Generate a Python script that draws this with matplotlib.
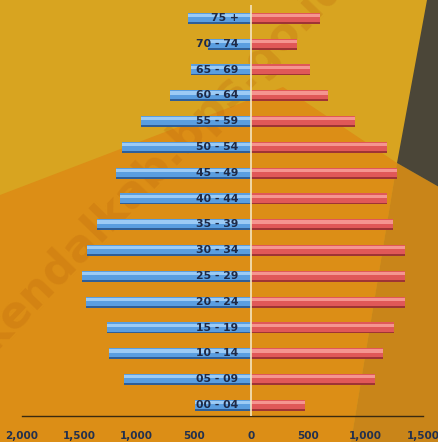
import matplotlib
matplotlib.use("Agg")
import matplotlib.pyplot as plt
from matplotlib.patches import Polygon
import numpy as np

# age groups from bottom to top
age_groups = ["00 - 04", "05 - 09", "10 - 14", "15 - 19", "20 - 24", "25 - 29",
              "30 - 34", "35 - 39", "40 - 44", "45 - 49", "50 - 54", "55 - 59",
              "60 - 64", "65 - 69", "70 - 74", "75 +"]
male = [489, 1108, 1239, 1257, 1440, 1475, 1431, 1344, 1143, 1178, 1126, 960,
        707, 524, 375, 550]
female = [471, 1082, 1152, 1248, 1344, 1344, 1344, 1239, 1187, 1274, 1187, 908,
          672, 515, 401, 602]
tick_values = [-2000, -1500, -1000, -500, 0, 500, 1000, 1500]
tick_labels = ["2,000", "1,500", "1,000", "500", "0", "500", "1,000", "1,500"]

W, H = 439, 442
fig = plt.figure(figsize=(W / 100, H / 100), dpi=100)
fig.patch.set_facecolor("#D8A420")

# background decoration (pixel coordinates, y down)
bg = fig.add_axes([0, 0, 1, 1])
bg.set_xlim(0, W)
bg.set_ylim(H, 0)
bg.axis("off")
bg.add_patch(Polygon([(0, 195), (283, 87), (397, 163), (351, 442), (0, 442)],
                     closed=True, color="#DC8E16", lw=0))
bg.add_patch(Polygon([(397, 163), (439, 187), (439, 442), (351, 442)],
                     closed=True, color="#C98519", lw=0))
bg.add_patch(Polygon([(427, 0), (439, 0), (439, 187), (397, 163)],
                     closed=True, color="#4B4638", lw=0))
bg.text(-6, 352, "kendalkab.bps.go.id", rotation=46, rotation_mode="anchor",
        ha="left", va="baseline", fontsize=32, fontweight="bold",
        color="#B8620A", alpha=0.25)

ax = fig.add_axes([22 / W, 26 / H, 401 / W, 411 / H])
ax.set_facecolor("none")
y = np.arange(len(age_groups))
m = -np.array(male)
f = np.array(female)

# bars with a simple 3D look: dark base, main body, light highlight
ax.barh(y - 0.02, m, height=0.42, color="#2F5E96", zorder=2)
ax.barh(y + 0.02, m, height=0.35, color="#5A9EE0", zorder=3)
ax.barh(y + 0.09, m, height=0.12, color="#9CCBF5", zorder=4)

ax.barh(y - 0.02, f, height=0.42, color="#9E3434", zorder=2)
ax.barh(y + 0.02, f, height=0.35, color="#E05858", zorder=3)
ax.barh(y + 0.09, f, height=0.12, color="#F59590", zorder=4)

for yi, lab in zip(y, age_groups):
    ax.text(-110, yi, lab, ha="right", va="center", fontsize=7.8,
            fontweight="bold", color="#1E2A48", zorder=6)

ax.axvline(0, color="#F5E6C0", lw=1.2, zorder=5)

ax.set_xlim(-2000, 1500)
ax.set_ylim(-0.43, 15.5)
ax.set_xticks(tick_values)
ax.set_xticklabels(tick_labels, fontsize=7.5, fontweight="bold", color="#22304E")
ax.set_yticks([])
ax.tick_params(axis="x", length=0, pad=11)
for s in ["top", "right", "left"]:
    ax.spines[s].set_visible(False)
ax.spines["bottom"].set_color("#3A2A10")
ax.spines["bottom"].set_linewidth(1)

fig.savefig("out.png", dpi=100)
